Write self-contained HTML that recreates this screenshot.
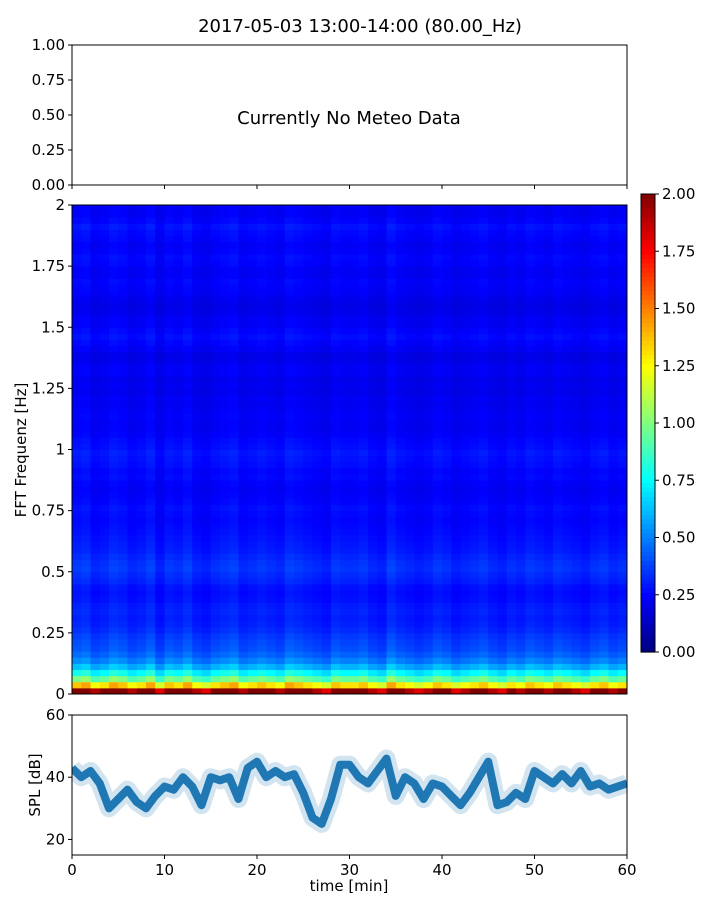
<!DOCTYPE html>
<html><head><meta charset="utf-8"><style>
body{margin:0;background:#fff;font-family:"Liberation Sans","DejaVu Sans",sans-serif}
svg text{font-family:"DejaVu Sans","Liberation Sans",sans-serif;fill:#000}
</style></head><body>
<svg id="fig" width="720" height="900" xmlns="http://www.w3.org/2000/svg">
<text x="360" y="32" font-size="18" text-anchor="middle">2017-05-03 13:00-14:00 (80.00_Hz)</text>
<g id="topax"></g>
<g id="spec"></g>
<g id="cbar"></g>
<g id="spl"></g>
</svg>
<script>
const rowProfile=[2.0,1.3,0.95,0.75,0.6,0.5,0.44,0.4,0.38,0.36,
0.33,0.31,0.3,0.31,0.3,0.28,0.27,0.28,
0.31,0.33,0.35,0.34,0.32,0.3,0.29,0.28,0.27,0.26,0.25,0.26,
0.27,0.25,0.24,0.23,0.24,0.26,0.25,0.27,0.28,0.29,
0.27,0.26,0.24,0.23,0.23,0.24,0.23,0.22,0.23,0.21,
0.22,0.21,0.23,0.23,0.21,0.2,0.23,0.25,0.27,0.25,
0.23,0.23,0.21,0.2,0.21,0.23,0.24,0.25,0.23,0.23,
0.25,0.26,0.24,0.23,0.25,0.26,0.28,0.25,0.23,0.23];
const colFactor=[1.05,1.1,0.95,1.0,1.1,1.05,0.95,1.0,1.1,0.9,1.05,1.0,1.1,0.95,0.9,1.0,1.05,1.1,0.95,1.0,
1.05,1.0,0.95,1.1,1.05,1.0,0.95,0.9,1.05,1.0,1.0,1.05,0.95,0.9,1.1,1.0,0.95,0.9,0.95,1.05,
1.0,0.9,0.95,1.0,1.05,0.95,0.9,1.0,0.95,1.05,1.0,0.95,1.05,1.0,0.95,0.9,1.0,1.05,0.95,1.0];
const splMinutes=[0,1,2,3,4,5,6,7,8,9,10,11,12,13,14,15,16,17,18,19,20,21,22,23,24,25,26,27,28,29,30,31,32,33,34,35,36,37,38,39,40,41,42,43,44,45,46,47,48,49,50,51,52,53,54,55,56,57,58,59,60];
const splValues=[43,40,42,38,30,33,36,32,30,34,37,36,40,37,31,40,39,40,33,43,45,40,42,40,41,35,27,25,33,44,44,40,38,42,46,34,40,38,33,38,37,34,31,35,40,45,31,32,35,33,42,40,38,41,38,42,37,38,36,37,38];
const xTicks=[0,10,20,30,40,50,60];
const specTicks=[0,0.25,0.5,0.75,1,1.25,1.5,1.75,2];
const specTickLabels=["0","0.25","0.5","0.75","1","1.25","1.5","1.75","2"];
const cbarTicks=[0,0.25,0.5,0.75,1,1.25,1.5,1.75,2];
const topTicks=[0,0.25,0.5,0.75,1];
const splTicks=[20,40,60];

const NS="http://www.w3.org/2000/svg";
function mk(p,t,a){const e=document.createElementNS(NS,t);for(const k in a)e.setAttribute(k,a[k]);p.appendChild(e);return e;}
const L=72,R=627;
const xs=m=>L+m/60*(R-L);
function jet(v){v=Math.max(0,Math.min(1,v));
 const f=x=>Math.max(0,Math.min(1,x));
 const r=f(1.5-Math.abs(4*v-3)),g=f(1.5-Math.abs(4*v-2)),b=f(1.5-Math.abs(4*v-1));
 return `rgb(${Math.round(r*255)},${Math.round(g*255)},${Math.round(b*255)})`;}

const topG=document.getElementById('topax');
const tT=45,tB=185,ty=v=>tB-v*(tB-tT);
topTicks.forEach(v=>{const y=ty(v);
 const tk=mk(topG,'line',{x1:L-4,x2:L,y1:y,y2:y,stroke:'#000'});
 
 const t=mk(topG,'text',{x:L-7,y:y+5,'font-size':15,'text-anchor':'end'});t.textContent=v.toFixed(2);
 });
xTicks.forEach(m=>{const tk=mk(topG,'line',{x1:xs(m),x2:xs(m),y1:tB,y2:tB+4,stroke:'#000'});
 });
const nm=mk(topG,'text',{x:349,y:124,'font-size':18,'text-anchor':'middle'});nm.textContent='Currently No Meteo Data';

const tf=mk(topG,'rect',{x:L,y:tT,width:R-L,height:tB-tT,fill:'none',stroke:'#000','stroke-width':1});


const spec=document.getElementById('spec');
const sT=205,sB=694,fy=f=>sB-f/2*(sB-sT);
const nr=rowProfile.length,nc=colFactor.length,df=2/nr,dm=60/nc;
const cells=mk(spec,'g',{});
for(let r=0;r<nr;r++)for(let c=0;c<nc;c++){
 const v=rowProfile[r]*colFactor[c];
 const y1=fy((r+1)*df),y0=fy(r*df);
 const e=mk(cells,'rect',{x:xs(c*dm),y:y1,width:xs((c+1)*dm)-xs(c*dm)+0.5,height:y0-y1+0.5,fill:jet(v/2)});
 
 }
specTicks.forEach((v,i)=>{const y=fy(v);
 const tk=mk(spec,'line',{x1:L-4,x2:L,y1:y,y2:y,stroke:'#000'});
 
 const t=mk(spec,'text',{x:L-7,y:y+5,'font-size':15,'text-anchor':'end'});t.textContent=specTickLabels[i];
 });
const yl=mk(spec,'text',{x:26,y:450,'font-size':15,'text-anchor':'middle',transform:'rotate(-90 26 450)'});yl.textContent='FFT Frequenz [Hz]';

const sf=mk(spec,'rect',{x:L,y:sT,width:R-L,height:sB-sT,fill:'none',stroke:'#000'});


const cb=document.getElementById('cbar');
const cL=641,cW=14,cT=194,cBt=652,cy=v=>cBt-v/2*(cBt-cT);
for(let i=0;i<100;i++){const e=mk(cb,'rect',{x:cL,y:cy((i+1)*0.02),width:cW,height:(cBt-cT)/100+0.6,fill:jet((i+0.5)/100)});
 }
mk(cb,'rect',{x:cL,y:cT,width:cW,height:cBt-cT,fill:'none',stroke:'#000'});
cbarTicks.forEach(v=>{const y=cy(v);
 const tk=mk(cb,'line',{x1:cL+cW,x2:cL+cW+4,y1:y,y2:y,stroke:'#000'});
 
 const t=mk(cb,'text',{x:cL+cW+7,y:y+5,'font-size':15});t.textContent=v.toFixed(2);
 });

const sp=document.getElementById('spl');
const cp=mk(document.getElementById('fig'),'clipPath',{id:'splclip'});mk(cp,'rect',{x:L,y:715,width:R-L,height:140});
const pT=715,pB=855,py=v=>pB-(v-15)/45*(pB-pT);
const pts=splMinutes.map((m,i)=>xs(m)+','+py(splValues[i])).join(' ');
const halo=mk(sp,'polyline',{points:pts,fill:'none',stroke:'#1f77b4','stroke-opacity':0.2,'stroke-width':18,'stroke-linejoin':'round','clip-path':'url(#splclip)'});

const ln=mk(sp,'polyline',{points:pts,fill:'none',stroke:'#1f77b4','stroke-width':8,'stroke-linejoin':'round','clip-path':'url(#splclip)'});

splTicks.forEach(v=>{const y=py(v);
 const tk=mk(sp,'line',{x1:L-4,x2:L,y1:y,y2:y,stroke:'#000'});
 
 const t=mk(sp,'text',{x:L-7,y:y+5,'font-size':15,'text-anchor':'end'});t.textContent=v;
 });
xTicks.forEach(m=>{const tk=mk(sp,'line',{x1:xs(m),x2:xs(m),y1:pB,y2:pB+4,stroke:'#000'});
 
 const t=mk(sp,'text',{x:xs(m),y:pB+20,'font-size':15,'text-anchor':'middle'});t.textContent=m;
 });
const xl=mk(sp,'text',{x:349,y:891,'font-size':15,'text-anchor':'middle'});xl.textContent='time [min]';

const yl2=mk(sp,'text',{x:40,y:785,'font-size':15,'text-anchor':'middle',transform:'rotate(-90 40 785)'});yl2.textContent='SPL [dB]';

mk(sp,'rect',{x:L,y:pT,width:R-L,height:pB-pT,fill:'none',stroke:'#000'});
</script>
</body></html>
